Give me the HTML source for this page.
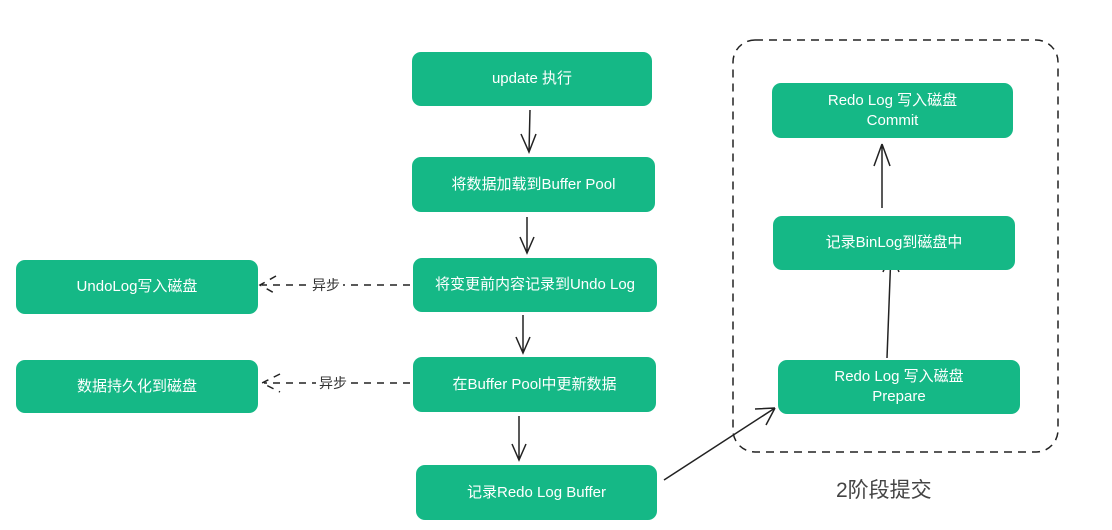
<!DOCTYPE html>
<html><head><meta charset="utf-8"><style>
html,body{margin:0;padding:0;background:#fff;}
body{width:1112px;height:530px;position:relative;overflow:hidden;font-family:"Liberation Sans","Noto Sans CJK SC",sans-serif;}
.b{position:absolute;background:#15b886;border-radius:9px;color:#fff;font-size:15px;display:flex;align-items:center;justify-content:center;text-align:center;line-height:20px;}
.t{position:absolute;color:#333;font-size:14px;background:#fff;padding:0 3px;}
</style></head><body>
<svg width="1112" height="530" style="position:absolute;left:0;top:0">
<g stroke="#222" stroke-width="1.5" fill="none">
<rect x="733" y="40" width="325" height="412" rx="22" stroke-dasharray="8 6"/>
<path d="M530 110 L529 152 M521 134 L529 152 L536 134"/>
<path d="M527 217 L527 253 M520 237 L527 253 L534 237"/>
<path d="M523 315 L523 353 M516 337 L523 353 L530 337"/>
<path d="M519 416 L519 460 M512 444 L519 460 L526 444"/>
<path d="M410 285 L262 285 M276 276 L260 285 L276 294" stroke-dasharray="7 6"/>
<path d="M410 383 L264 383 M280 374 L262 383 L280 392" stroke-dasharray="7 6"/>
<path d="M664 480 L775 408 M755 409 L775 408 M766 425 L775 408"/>
<path d="M887 358 L891 252 M883 272 L891 252 M899 272 L891 252"/>
<path d="M882 208 L882 144 M874 166 L882 144 M890 166 L882 144"/>
</g>
</svg>
<div class="b" style="left:412px;top:52px;width:240px;height:54px">update 执行</div>
<div class="b" style="left:412px;top:157px;width:243px;height:55px">将数据加载到Buffer Pool</div>
<div class="b" style="left:413px;top:258px;width:244px;height:54px">将变更前内容记录到Undo Log</div>
<div class="b" style="left:413px;top:357px;width:243px;height:55px">在Buffer Pool中更新数据</div>
<div class="b" style="left:416px;top:465px;width:241px;height:55px">记录Redo Log Buffer</div>
<div class="b" style="left:16px;top:260px;width:242px;height:54px">UndoLog写入磁盘</div>
<div class="b" style="left:16px;top:360px;width:242px;height:53px">数据持久化到磁盘</div>
<div class="b" style="left:772px;top:83px;width:241px;height:55px">Redo Log 写入磁盘<br>Commit</div>
<div class="b" style="left:773px;top:216px;width:242px;height:54px">记录BinLog到磁盘中</div>
<div class="b" style="left:778px;top:360px;width:242px;height:54px">Redo Log 写入磁盘<br>Prepare</div>
<div class="t" style="left:309px;top:275px">异步</div>
<div class="t" style="left:316px;top:373px">异步</div>
<div style="position:absolute;left:836px;top:474px;font-size:21px;color:#444">2阶段提交</div>
</body></html>
